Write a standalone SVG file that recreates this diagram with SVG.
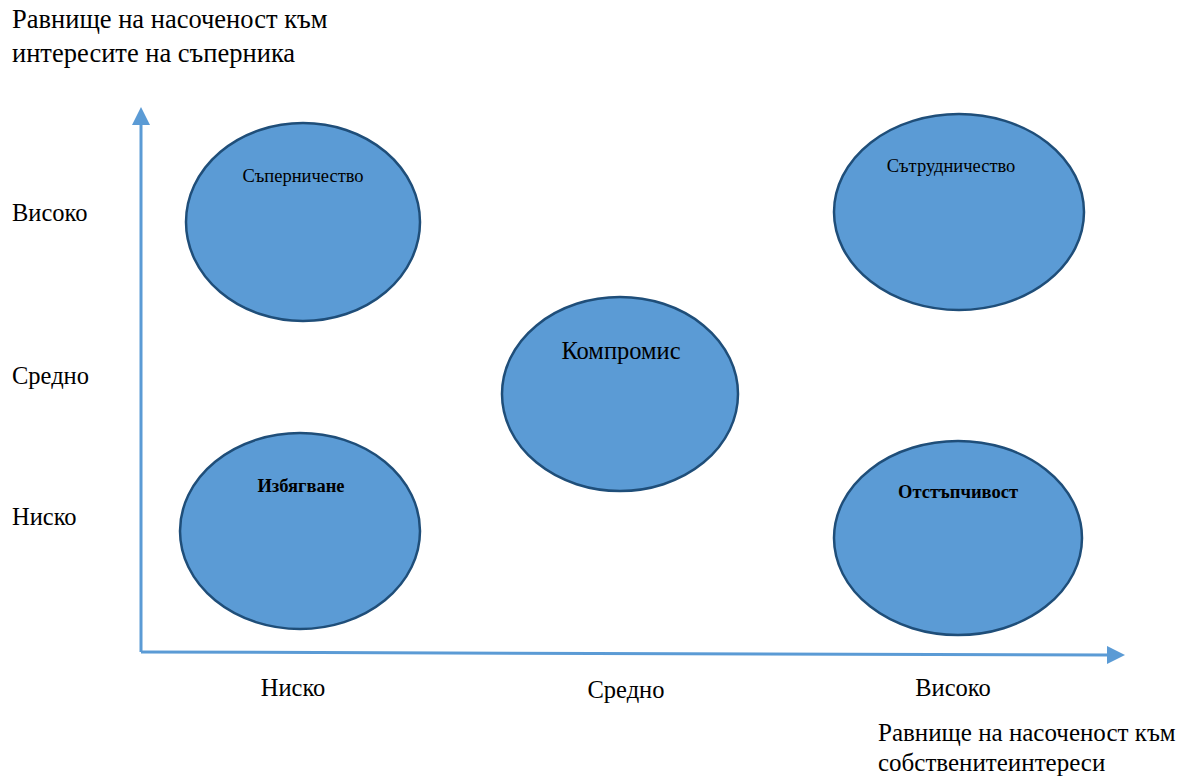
<svg xmlns="http://www.w3.org/2000/svg" width="1197" height="778" viewBox="0 0 1197 778">
<style>
text{font-family:"Liberation Serif","Times New Roman",serif;fill:#000}
.lbl{font-size:24.5px}
.ttl{font-size:26.5px}
.ttl2{font-size:25px}
.node ellipse{fill:#5B9BD5;stroke:#1F4E79;stroke-width:2.5}
.n{font-size:18.5px;text-anchor:middle}
.b{font-weight:bold}
.axis{stroke:#5B9BD5;stroke-width:3;fill:none}
</style>
<defs>
<marker id="ah" markerWidth="6" markerHeight="6" refX="1" refY="3" orient="auto" markerUnits="strokeWidth">
<path d="M0,0 L6,3 L0,6 Z" fill="#5B9BD5"/>
</marker>
</defs>
<text class="ttl" x="12" y="28">Равнище на насоченост към</text>
<text class="ttl" x="12" y="62">интересите на съперника</text>
<text class="ttl2" x="878" y="741">Равнище на насоченост към</text>
<text class="ttl2" x="878" y="771">собственитеинтереси</text>
<text class="lbl" x="12" y="221">Високо</text>
<text class="lbl" x="12" y="384">Средно</text>
<text class="lbl" x="12" y="525">Ниско</text>
<text class="lbl" x="293" y="696" text-anchor="middle">Ниско</text>
<text class="lbl" x="626" y="698" text-anchor="middle">Средно</text>
<text class="lbl" x="953" y="696" text-anchor="middle">Високо</text>
<g id="connectors">
<line class="axis" x1="141" y1="652" x2="141" y2="122" marker-end="url(#ah)"/>
<line class="axis" x1="141" y1="652" x2="1110" y2="655" marker-end="url(#ah)"/>
</g>
<g id="competition" class="node">
<ellipse cx="303" cy="222" rx="117" ry="99"/>
<text class="n" x="303" y="182">Съперничество</text>
</g>
<g id="collaboration" class="node">
<ellipse cx="959" cy="212" rx="125" ry="98"/>
<text class="n" x="951" y="172">Сътрудничество</text>
</g>
<g id="compromise" class="node">
<ellipse cx="620" cy="394" rx="118" ry="97"/>
<text class="n" x="621" y="359" style="font-size:24.5px">Компромис</text>
</g>
<g id="avoidance" class="node">
<ellipse cx="300" cy="531" rx="120" ry="98"/>
<text class="n b" x="301" y="492">Избягване</text>
</g>
<g id="accommodation" class="node">
<ellipse cx="958" cy="538" rx="124" ry="97"/>
<text class="n b" x="958" y="498">Отстъпчивост</text>
</g>
</svg>
